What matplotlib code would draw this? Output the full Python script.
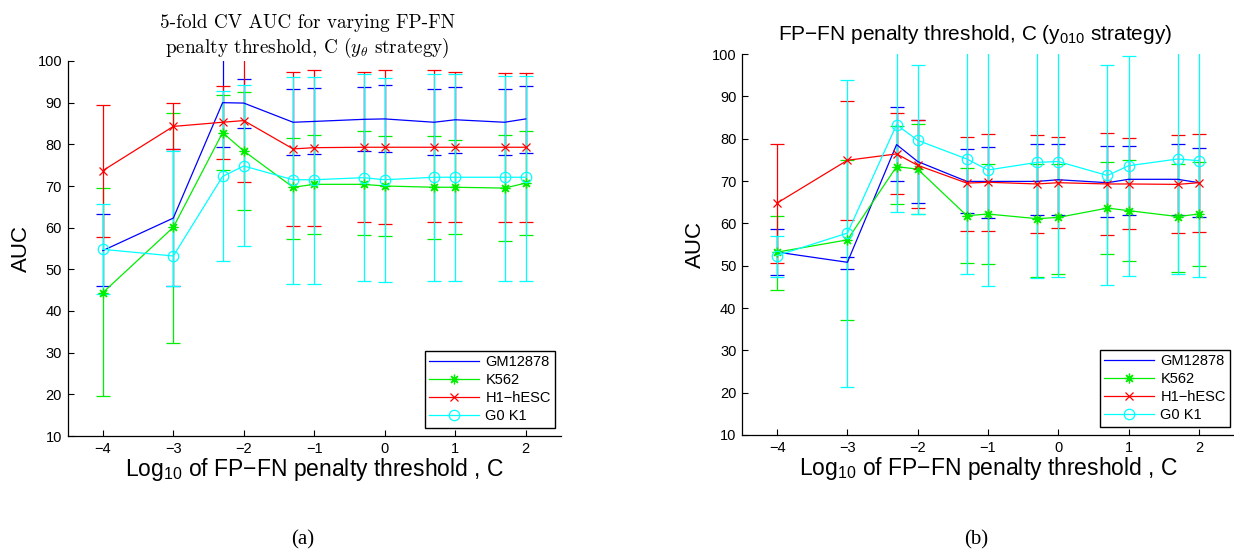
import numpy as np
import matplotlib
matplotlib.use("Agg")
import matplotlib.pyplot as plt
from matplotlib.lines import Line2D

# ---------------- data ----------------
C_values = [1e-4, 1e-3, 5e-3, 1e-2, 5e-2, 0.1, 0.5, 1, 5, 10, 50, 100]
series_names = ["GM12878", "K562", "H1\u2212hESC", "G0 K1"]

# Panel (a): y_theta strategy  (mean, lower bound, upper bound)
a_gm_mean = [54.5, 62.3, 90.0, 89.9, 85.3, 85.5, 86.0, 86.1, 85.3, 85.9, 85.3, 86.1]
a_gm_lo   = [45.9, 46.1, 79.3, 83.9, 77.5, 77.7, 78.4, 78.1, 77.5, 78.0, 77.5, 78.0]
a_gm_hi   = [63.3, 78.8, 104, 95.7, 93.2, 93.4, 93.7, 94.2, 93.2, 93.8, 93.2, 93.9]

a_k5_mean = [44.4, 60.1, 82.8, 78.4, 69.7, 70.4, 70.4, 70.0, 69.7, 69.7, 69.5, 70.7]
a_k5_lo   = [19.5, 32.4, 73.9, 64.3, 57.3, 58.6, 58.3, 58.0, 57.4, 58.4, 56.7, 58.3]
a_k5_hi   = [69.5, 87.5, 91.8, 92.6, 81.5, 82.3, 83.1, 81.9, 82.1, 81.1, 82.3, 83.3]

a_h1_mean = [73.7, 84.3, 85.3, 85.7, 78.9, 79.2, 79.3, 79.3, 79.3, 79.3, 79.3, 79.3]
a_h1_lo   = [57.8, 78.8, 76.6, 70.9, 60.3, 60.5, 61.3, 61.0, 61.3, 61.3, 61.3, 61.3]
a_h1_hi   = [89.5, 89.9, 94.0, 103, 97.4, 97.8, 97.3, 97.8, 97.8, 97.3, 97.1, 97.1]

a_g0_mean = [54.8, 53.2, 72.3, 74.8, 71.5, 71.5, 72.0, 71.5, 72.1, 72.1, 72.1, 72.1]
a_g0_lo   = [44.0, 46.0, 51.9, 55.6, 46.5, 46.5, 47.1, 47.0, 47.1, 47.1, 47.1, 47.1]
a_g0_hi   = [65.6, 78.5, 92.9, 94.2, 96.2, 96.2, 96.9, 96.0, 96.8, 96.9, 96.3, 96.3]

# Panel (b): y_010 strategy
b_gm_mean = [53.2, 50.8, 78.6, 74.6, 69.9, 69.9, 69.9, 70.3, 69.6, 70.4, 70.4, 69.6]
b_gm_lo   = [47.7, 49.3, 69.9, 64.8, 62.4, 61.2, 62.0, 61.9, 61.6, 62.0, 62.0, 61.4]
b_gm_hi   = [58.6, 52.0, 87.4, 84.5, 77.6, 78.0, 78.8, 78.8, 78.2, 78.2, 78.8, 77.8]

b_k5_mean = [53.2, 56.1, 73.4, 72.8, 61.8, 62.2, 61.1, 61.4, 63.6, 63.0, 61.6, 62.2]
b_k5_lo   = [44.3, 37.2, 64.5, 62.2, 50.7, 50.4, 47.4, 48.1, 52.8, 51.1, 48.5, 50.0]
b_k5_hi   = [61.8, 75.0, 83.0, 83.5, 73.0, 74.1, 74.0, 74.0, 74.6, 75.0, 74.0, 74.6]

b_h1_mean = [64.8, 74.9, 76.4, 73.7, 69.5, 69.7, 69.3, 69.6, 69.3, 69.3, 69.2, 69.6]
b_h1_lo   = [50.6, 60.8, 66.9, 63.6, 58.2, 58.3, 57.7, 58.8, 57.3, 58.6, 57.7, 57.9]
b_h1_hi   = [78.8, 88.8, 86.1, 84.5, 80.5, 81.2, 80.9, 80.5, 81.3, 80.1, 80.9, 81.1]

b_g0_mean = [52.4, 57.7, 83.3, 79.6, 75.2, 72.6, 74.4, 74.6, 71.3, 73.6, 75.2, 74.8]
b_g0_lo   = [47.4, 21.4, 62.6, 62.2, 48.1, 45.1, 47.2, 47.4, 45.5, 47.5, 48.1, 47.4]
b_g0_hi   = [57.1, 93.8, 104, 97.3, 104, 104, 104, 104, 97.3, 99.6, 104, 104]

x_ticks = [-4, -3, -2, -1, 0, 1, 2]
y_ticks = [10, 20, 30, 40, 50, 60, 70, 80, 90, 100]

# ---------------- style ----------------
colors = ["#0000ff", "#00ee00", "#ff0000", "#00ffff"]
markers = [None, (8, 2, 0), "x", "o"]
msizes = [7, 7, 6, 7.5]
SANS = "Liberation Sans"
plt.rcParams["font.family"] = [SANS, "DejaVu Sans"]

fig = plt.figure(figsize=(12.34, 5.54), dpi=100)
W, H = 1234.0, 554.0
ax1 = fig.add_axes([67.6 / W, (H - 436) / H, 493.4 / W, 375 / H])
ax2 = fig.add_axes([742 / W, (H - 435) / H, 492 / W, 381 / H])

x = np.log10(np.array(C_values))

panels = [
    (ax1, [(a_gm_mean, a_gm_lo, a_gm_hi), (a_k5_mean, a_k5_lo, a_k5_hi),
           (a_h1_mean, a_h1_lo, a_h1_hi), (a_g0_mean, a_g0_lo, a_g0_hi)]),
    (ax2, [(b_gm_mean, b_gm_lo, b_gm_hi), (b_k5_mean, b_k5_lo, b_k5_hi),
           (b_h1_mean, b_h1_lo, b_h1_hi), (b_g0_mean, b_g0_lo, b_g0_hi)]),
]

for ax, series in panels:
    for (m, lo, hi), col, mk, ms in zip(series, colors, markers, msizes):
        m = np.array(m); lo = np.array(lo); hi = np.array(hi)
        yerr = np.vstack([m - lo, hi - m])
        ax.errorbar(x, m, yerr=yerr, color=col, lw=0.9, elinewidth=0.9,
                    capsize=5, capthick=0.9, marker=mk, markersize=ms,
                    markerfacecolor="none", markeredgecolor=col,
                    markeredgewidth=0.9, zorder=2)
    ax.set_xlim(-4.5, 2.5)
    ax.set_ylim(10, 100)
    ax.set_xticks(x_ticks)
    ax.set_yticks(y_ticks)
    ax.spines["top"].set_visible(False)
    ax.spines["right"].set_visible(False)
    for s in ["left", "bottom"]:
        ax.spines[s].set_linewidth(0.9)
    ax.tick_params(direction="in", length=4, width=0.8, labelsize=10.5, pad=4)
    ax.set_xlabel("Log$\\mathregular{_{10}}$ of FP\u2212FN penalty threshold , C",
                  fontsize=16.5, labelpad=0)
    ax.set_ylabel("AUC", fontsize=16, labelpad=4)

    handles = [Line2D([], [], color=c, lw=0.9, marker=mk, markersize=ms,
                      markerfacecolor="none", markeredgecolor=c,
                      markeredgewidth=0.9)
               for c, mk, ms in zip(colors, markers, msizes)]
    leg = ax.legend(handles, series_names, loc="lower right",
                    bbox_to_anchor=(0.988 if ax is ax1 else 0.992, 0.022),
                    borderaxespad=0, fontsize=10.5, handlelength=3.4,
                    handletextpad=0.45, labelspacing=0.28, borderpad=0.3,
                    fancybox=False, framealpha=1, edgecolor="black")
    leg.get_frame().set_linewidth(1.0)

ax1.set_title("5-fold CV AUC for varying FP-FN\npenalty threshold, C ($y_\\theta$ strategy)",
              family="cmr10", math_fontfamily="cm", fontsize=13.8,
              x=0.486, pad=6, linespacing=1.2)
ax2.set_title("FP\u2212FN penalty threshold, C (y$\\mathregular{_{010}}$ strategy)",
              fontsize=15, x=0.474, pad=10)

fig.text(303 / W, 1 - 540 / H, "(a)", family="Liberation Serif", fontsize=15,
         ha="center", va="center")
fig.text(976 / W, 1 - 540 / H, "(b)", family="Liberation Serif", fontsize=15,
         ha="center", va="center")

fig.savefig("out.png", dpi=100)
